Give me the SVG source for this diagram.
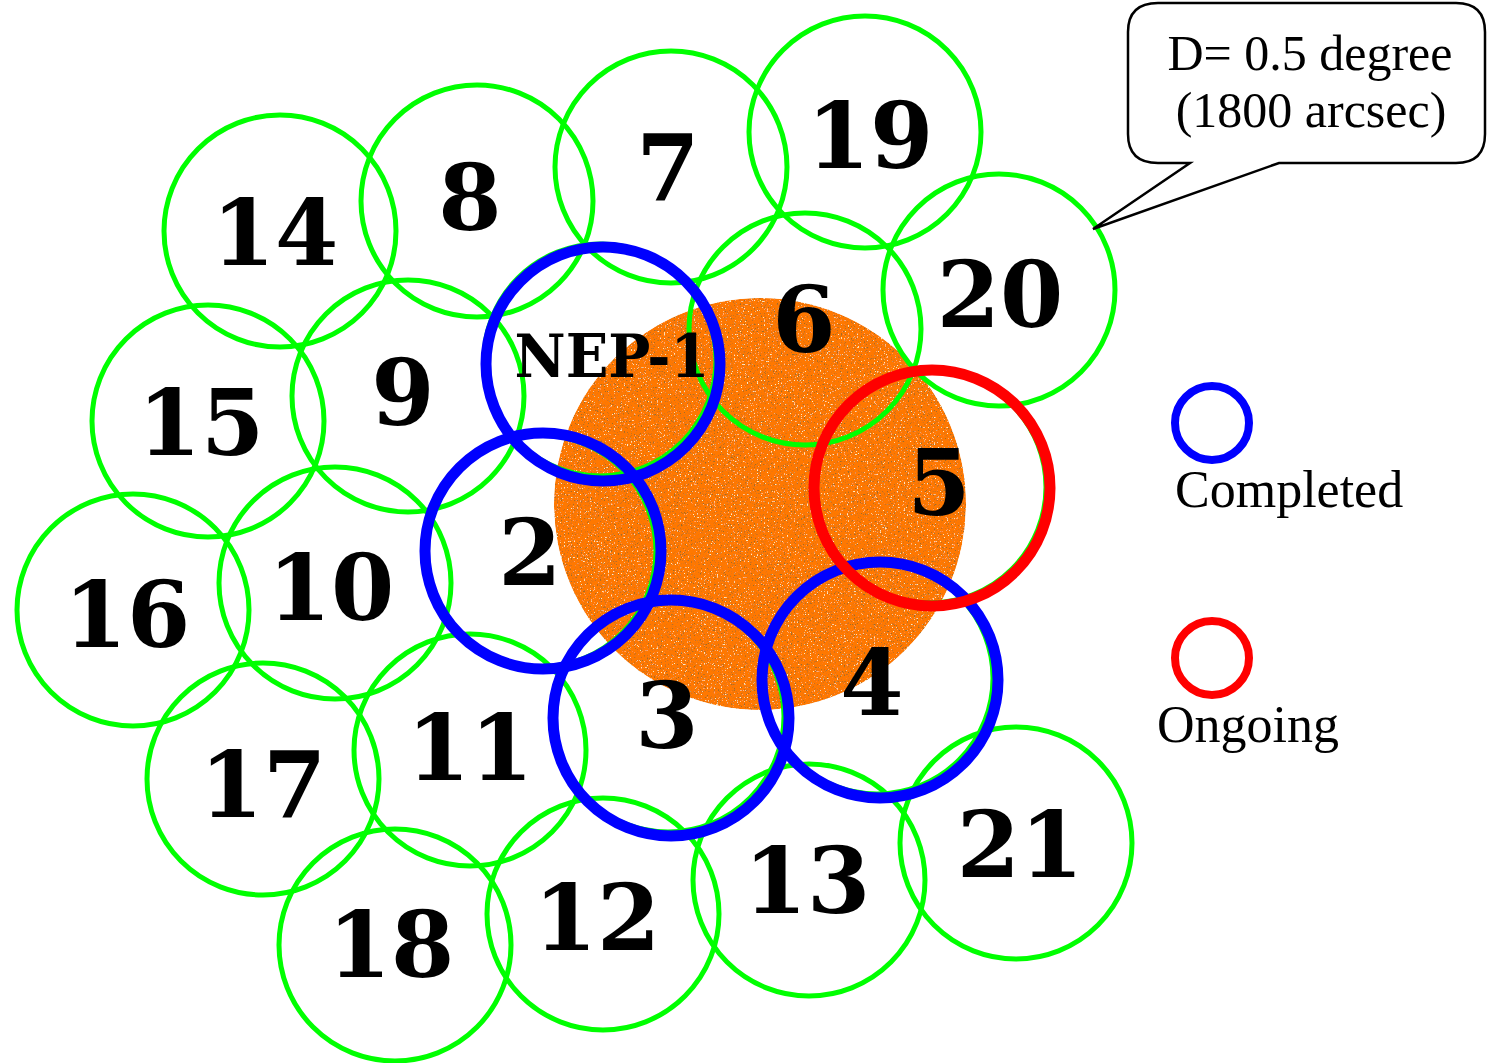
<svg xmlns="http://www.w3.org/2000/svg" width="1487" height="1063" viewBox="0 0 1487 1063">
<style>
.g{fill:none;stroke:#00ff00;stroke-width:5}
.b{fill:none;stroke:#0000ff;stroke-width:11}
.r{fill:none;stroke:#ff0000;stroke-width:11}
.n{font-family:"DejaVu Serif",serif;font-weight:bold;font-size:91px;fill:#000;text-anchor:middle}
.s{font-family:"Liberation Serif","Times New Roman",serif;font-size:52px;fill:#000}
</style>
<defs>
<filter id="grain" x="0" y="0" width="100%" height="100%">
<feTurbulence type="fractalNoise" baseFrequency="0.7" numOctaves="2" seed="7" result="n"/>
<feColorMatrix in="n" type="matrix" values="0 0 0 0 0.35  0 0 0 0 0.15  0 0 0 0 0.02  6 0 0 0 -3.5" result="dk"/>
<feColorMatrix in="n" type="matrix" values="0 0 0 0 1  0 0 0 0 0.85  0 0 0 0 0.55  0 -8 0 0 2.7" result="lt"/>
<feMerge result="m"><feMergeNode in="SourceGraphic"/><feMergeNode in="dk"/><feMergeNode in="lt"/></feMerge>
<feComposite in="m" in2="SourceGraphic" operator="in"/>
</filter>
</defs>
<rect width="1487" height="1063" fill="#fff"/>
<circle id="target" cx="760" cy="504" r="206" fill="#ff7800" filter="url(#grain)"/>
<g id="planned-fields">
<g id="field-14"><circle class="g" cx="280" cy="231" r="116"/><text class="n" x="275" y="265">14</text></g>
<g id="field-8"><circle class="g" cx="477" cy="201" r="116"/><text class="n" x="470" y="230">8</text></g>
<g id="field-7"><circle class="g" cx="671" cy="167" r="116"/><text class="n" x="668" y="200">7</text></g>
<g id="field-19"><circle class="g" cx="865" cy="132" r="116"/><text class="n" x="870" y="168">19</text></g>
<g id="field-20"><circle class="g" cx="999" cy="290" r="116"/><text class="n" x="1000" y="327">20</text></g>
<g id="field-6"><circle class="g" cx="805" cy="329" r="116"/><text class="n" x="804" y="352">6</text></g>
<g id="field-9"><circle class="g" cx="408" cy="396" r="116"/><text class="n" x="403" y="425">9</text></g>
<g id="field-15"><circle class="g" cx="208" cy="421" r="116"/><text class="n" x="201" y="455">15</text></g>
<g id="field-10"><circle class="g" cx="335" cy="583" r="116"/><text class="n" x="331" y="620">10</text></g>
<g id="field-16"><circle class="g" cx="133" cy="610" r="116"/><text class="n" x="127" y="647">16</text></g>
<g id="field-17"><circle class="g" cx="263" cy="779" r="116"/><text class="n" x="263" y="817">17</text></g>
<g id="field-11"><circle class="g" cx="470" cy="750" r="116"/><text class="n" x="470" y="780">11</text></g>
<g id="field-18"><circle class="g" cx="395" cy="945" r="116"/><text class="n" x="391" y="977">18</text></g>
<g id="field-12"><circle class="g" cx="603" cy="914" r="116"/><text class="n" x="597" y="950">12</text></g>
<g id="field-13"><circle class="g" cx="809" cy="880" r="116"/><text class="n" x="807" y="913">13</text></g>
<g id="field-21"><circle class="g" cx="1016" cy="843" r="116"/><text class="n" x="1020" y="877">21</text></g>
<g id="field-base"><circle class="g" cx="600" cy="360" r="116"/><circle class="g" cx="540" cy="551" r="116"/><circle class="g" cx="668" cy="716" r="116"/><circle class="g" cx="877" cy="678" r="116"/><circle class="g" cx="930" cy="487" r="116"/></g>
</g>
<g id="observed-fields">
<g id="field-NEP-1"><circle class="b" cx="603" cy="364" r="117"/><text x="612" y="377" textLength="195" lengthAdjust="spacingAndGlyphs" style="font-family:'DejaVu Serif',serif;font-weight:bold;font-size:60px;text-anchor:middle">NEP-1</text></g>
<g id="field-2"><circle class="b" cx="543" cy="551" r="118"/><text class="n" x="530" y="585">2</text></g>
<g id="field-3"><circle class="b" cx="671" cy="718" r="118"/><text class="n" x="667" y="748">3</text></g>
<g id="field-4"><circle class="b" cx="880" cy="680" r="118"/><text class="n" x="872" y="715">4</text></g>
<g id="field-5"><circle class="r" cx="932" cy="488" r="118"/><text class="n" x="939" y="515">5</text></g>
</g>
<g id="callout">
<path d="M1158,3 H1456 Q1485,3 1485,32 V134 Q1485,163 1456,163 H1279 L1093,229 L1190,163 H1158 Q1128,163 1128,134 V32 Q1128,3 1158,3 Z" fill="#fff" stroke="#000" stroke-width="2.5" stroke-linejoin="miter"/>
<text class="s" x="1310" y="70" text-anchor="middle" style="font-size:50px">D= 0.5 degree</text>
<text class="s" x="1311" y="127" text-anchor="middle" style="font-size:50px">(1800 arcsec)</text>
</g>
<g id="legend">
<g id="legend-completed"><circle cx="1212" cy="423" r="37" fill="none" stroke="#0000ff" stroke-width="8"/><text class="s" x="1175" y="507">Completed</text></g>
<g id="legend-ongoing"><circle cx="1212" cy="658" r="37" fill="none" stroke="#ff0000" stroke-width="8"/><text class="s" x="1157" y="742">Ongoing</text></g>
</g>
</svg>
